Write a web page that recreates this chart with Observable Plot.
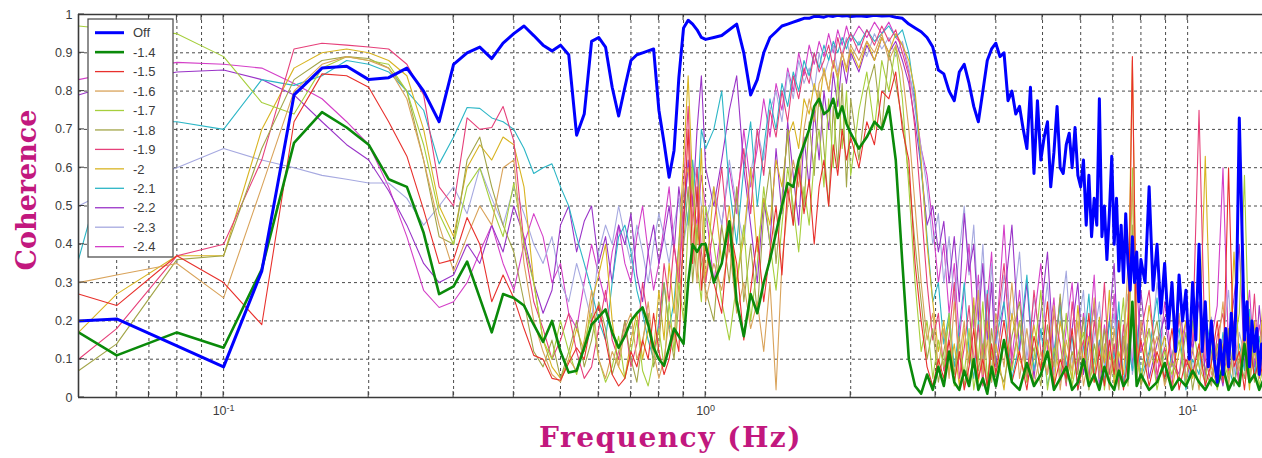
<!DOCTYPE html>
<html>
<head>
<meta charset="utf-8">
<script src="https://cdn.jsdelivr.net/npm/d3@7"></script>
<script src="https://cdn.jsdelivr.net/npm/@observablehq/plot@0.6"></script>
<style>
  html, body { margin: 0; padding: 0; background: #fff; }
  #chart { position: relative; width: 1262px; height: 458px; overflow: hidden; }
</style>
</head>
<body>
<div id="chart"></div>
<script>
// Coherence vs frequency for the gain settings in the legend.
// Sample frequencies (Hz): a fine grid below 1 Hz, a coarser log-like grid above.
const freqLow = [0.05,0.06,0.08,0.10,0.12,0.14,0.16,0.18,0.20,0.22,0.24,0.26,0.28,0.30,0.32,0.34,0.36,0.38,0.40,0.42,0.44,0.46,0.48,0.50,0.52,0.54,0.56,0.58,0.60,0.62,0.64,0.66,0.68,0.70,0.72,0.74,0.76,0.78,0.80,0.82,0.84,0.86,0.88,0.90,0.92,0.94,0.96,0.98,1.00];
const freqHigh = [
  1.04,1.08,1.12,1.16,1.20,1.24,1.28,1.32,1.36,1.40,1.44,1.48,1.52,1.56,1.60,1.64,1.68,1.72,1.76,1.80,1.84,1.88,1.92,1.96,2.00,
  2.08,2.16,2.24,2.32,2.40,2.48,2.56,2.64,2.72,2.80,2.88,2.96,3.04,3.12,3.20,3.28,3.36,3.44,3.52,3.60,3.68,3.76,3.84,3.92,4.00,
  4.16,4.32,4.48,4.64,4.80,4.96,5.12,5.28,5.44,5.60,5.76,5.92,6.08,6.24,6.40,6.56,6.72,6.88,7.04,7.20,7.36,7.52,7.68,7.84,8.00,
  8.32,8.64,8.96,9.28,9.60,9.92,10.24,10.56,10.88,11.20,11.52,11.84,12.16,12.48,12.80,13.12,13.44,13.76,14.08,14.40
];
// The "Off" curve is kept at a finer step above 4 Hz.
const freqOffFine = [
  4.08,4.16,4.24,4.32,4.40,4.48,4.56,4.64,4.72,4.80,4.88,4.96,5.04,5.12,5.20,5.28,5.36,5.44,5.52,5.60,5.68,5.76,5.84,5.92,6.00,
  6.08,6.16,6.24,6.32,6.40,6.48,6.56,6.64,6.72,6.80,6.88,6.96,7.04,7.12,7.20,7.28,7.36,7.44,7.52,7.60,7.68,7.76,7.84,7.92,8.00,
  8.16,8.32,8.48,8.64,8.80,8.96,9.12,9.28,9.44,9.60,9.76,9.92,10.08,10.24,10.40,10.56,10.72,10.88,11.04,11.20,
  11.36,11.52,11.68,11.84,12.00,12.16,12.32,12.48,12.64,12.80,12.96,13.12,13.28,13.44,13.60,13.76,13.92,14.08,14.24,14.40
];

// Coherence per setting, one value per sample frequency.
const cohOff = [
  0.20,0.205,0.135,0.08,0.33,0.79,0.86,0.865,0.83,0.835,0.86,0.80,0.72,0.87,0.90,0.915,0.885,0.925,0.95,0.97,0.945,0.92,0.905,0.92,0.895,0.685,0.74,0.93,0.94,0.915,0.81,0.735,0.81,0.88,0.895,0.90,0.905,0.91,0.75,0.665,0.575,0.645,0.835,0.965,0.985,0.975,0.96,0.94,0.935,
  0.94,0.945,0.96,0.975,0.90,0.79,0.83,0.90,0.94,0.955,0.97,0.975,0.98,0.985,0.99,0.99,0.995,0.995,0.993,0.997,0.995,0.998,0.996,0.997,0.995,
  0.997,0.995,0.998,0.996,0.997,0.993,0.99,0.975,0.965,0.955,0.94,0.915,0.855,0.845,0.80,0.775,0.85,0.87,0.82,0.76,0.72,0.80,0.88,0.91,0.925,
  0.89,0.90,0.775,0.80,0.74,0.76,0.70,0.65,0.81,0.585,0.775,0.62,0.68,0.72,0.55,0.64,0.76,0.60,0.585,0.66,0.69,0.60,0.705,0.58,0.55,
  0.62,0.45,0.58,0.42,0.52,0.45,0.78,0.42,0.50,0.36,0.48,0.63,0.40,0.52,0.33,0.45,0.30,0.48,0.35,0.28,0.42,0.30,0.38,0.25,0.36,
  0.30,0.55,0.28,0.40,0.22,0.35,0.18,0.30,0.12,0.32,0.20,0.28,0.10,0.30,0.15,0.40,0.12,0.25,0.08,0.20,
  0.10,0.04,0.15,0.06,0.18,0.08,0.22,0.10,0.30,0.73,0.45,0.15,0.25,0.08,0.20,0.12,0.18,0.06,0.14,0.10
];
const coh14 = [
  0.17,0.11,0.17,0.13,0.335,0.665,0.745,0.705,0.66,0.57,0.55,0.43,0.27,0.29,0.355,0.26,0.17,0.27,0.26,0.24,0.19,0.145,0.20,0.12,0.065,0.07,0.13,0.19,0.21,0.23,0.17,0.13,0.16,0.20,0.22,0.235,0.19,0.13,0.10,0.083,0.13,0.18,0.16,0.14,0.30,0.40,0.38,0.40,0.40,
  0.30,0.35,0.46,0.25,0.16,0.27,0.22,0.30,0.36,0.43,0.50,0.56,0.55,0.62,0.66,0.70,0.76,0.78,0.74,0.75,0.78,0.73,0.76,0.715,0.69,
  0.65,0.68,0.72,0.70,0.76,0.62,0.35,0.10,0.03,0.01,0.06,0.02,0.08,0.03,0.12,0.04,0.02,0.07,0.03,0.10,0.02,0.05,0.01,0.08,0.03,
  0.15,0.04,0.02,0.09,0.03,0.06,0.12,0.02,0.05,0.08,0.02,0.04,0.10,0.03,0.06,0.02,0.08,0.04,0.02,0.07,0.03,0.05,0.25,0.03,0.06,
  0.02,0.04,0.09,0.02,0.05,0.03,0.07,0.04,0.02,0.05,0.03,0.08,0.02,0.05,0.03,0.14,0.04,0.06,0.02,0.05
];
const coh15 = [
  0.27,0.24,0.37,0.30,0.19,0.72,0.845,0.84,0.81,0.72,0.63,0.49,0.35,0.36,0.47,0.40,0.25,0.32,0.26,0.18,0.11,0.10,0.05,0.045,0.09,0.13,0.10,0.20,0.24,0.15,0.06,0.03,0.05,0.12,0.08,0.15,0.10,0.22,0.12,0.06,0.10,0.18,0.12,0.45,0.70,0.35,0.55,0.28,0.40,
  0.30,0.22,0.45,0.35,0.15,0.28,0.42,0.25,0.38,0.50,0.32,0.55,0.45,0.60,0.48,0.57,0.40,0.55,0.62,0.50,0.66,0.58,0.70,0.62,0.68,
  0.60,0.72,0.66,0.80,0.78,0.85,0.70,0.62,0.35,0.20,0.08,0.03,0.10,0.05,0.15,0.04,0.12,0.02,0.08,0.18,0.05,0.10,0.03,0.14,0.06,
  0.20,0.04,0.12,0.02,0.16,0.07,0.25,0.03,0.10,0.05,0.18,0.02,0.09,0.22,0.04,0.12,0.03,0.15,0.06,0.20,0.02,0.10,0.89,0.08,0.15,
  0.03,0.12,0.05,0.18,0.02,0.10,0.06,0.14,0.03,0.09,0.20,0.04,0.60,0.08,0.12,0.02,0.15,0.05,0.10,0.04
];
const coh16 = [
  0.30,0.32,0.35,0.26,0.55,0.80,0.87,0.89,0.88,0.86,0.78,0.62,0.45,0.33,0.42,0.50,0.45,0.60,0.62,0.35,0.20,0.12,0.06,0.04,0.10,0.07,0.15,0.28,0.10,0.05,0.12,0.08,0.18,0.22,0.10,0.14,0.25,0.12,0.05,0.10,0.20,0.15,0.35,0.55,0.60,0.45,0.30,0.50,0.25,
  0.35,0.28,0.40,0.22,0.30,0.18,0.25,0.12,0.30,0.02,0.35,0.50,0.62,0.55,0.70,0.78,0.72,0.82,0.85,0.80,0.88,0.84,0.90,0.86,0.92,
  0.88,0.93,0.90,0.95,0.88,0.92,0.85,0.70,0.50,0.30,0.15,0.22,0.08,0.18,0.05,0.25,0.10,0.20,0.03,0.12,0.28,0.06,0.15,0.04,0.22,
  0.08,0.30,0.05,0.18,0.03,0.12,0.06,0.24,0.02,0.15,0.07,0.20,0.03,0.11,0.26,0.05,0.14,0.02,0.18,0.06,0.12,0.35,0.55,0.04,0.20,
  0.08,0.16,0.03,0.10,0.22,0.05,0.13,0.02,0.18,0.06,0.11,0.25,0.03,0.14,0.07,0.20,0.04,0.12,0.06,0.16
];
const coh17 = [
  0.97,0.96,0.95,0.89,0.77,0.74,0.86,0.89,0.88,0.87,0.80,0.66,0.48,0.40,0.55,0.60,0.50,0.42,0.56,0.40,0.30,0.15,0.10,0.20,0.12,0.06,0.14,0.22,0.10,0.04,0.08,0.16,0.05,0.12,0.20,0.07,0.03,0.10,0.18,0.08,0.25,0.12,0.30,0.20,0.45,0.60,0.35,0.25,0.50,
  0.40,0.25,0.15,0.30,0.45,0.20,0.35,0.55,0.40,0.28,0.45,0.60,0.50,0.38,0.55,0.45,0.62,0.70,0.55,0.78,0.60,0.84,0.65,0.80,0.58,
  0.75,0.85,0.70,0.88,0.80,0.92,0.78,0.55,0.30,0.12,0.20,0.05,0.15,0.08,0.22,0.03,0.14,0.06,0.18,0.02,0.10,0.25,0.05,0.12,0.03,
  0.15,0.07,0.20,0.04,0.10,0.28,0.02,0.13,0.06,0.22,0.03,0.11,0.17,0.04,0.09,0.20,0.02,0.12,0.05,0.14,0.26,0.03,0.60,0.10,0.05,
  0.18,0.02,0.12,0.06,0.15,0.03,0.20,0.08,0.04,0.16,0.02,0.10,0.05,0.13,0.22,0.58,0.06,0.14,0.03,0.09
];
const coh18 = [
  0.07,0.14,0.36,0.37,0.65,0.83,0.88,0.89,0.885,0.86,0.80,0.62,0.42,0.40,0.62,0.68,0.55,0.45,0.38,0.25,0.12,0.08,0.15,0.05,0.12,0.20,0.08,0.15,0.25,0.18,0.06,0.12,0.20,0.10,0.04,0.15,0.22,0.08,0.14,0.30,0.18,0.10,0.25,0.40,0.55,0.30,0.45,0.35,0.28,
  0.20,0.45,0.30,0.55,0.25,0.40,0.22,0.48,0.60,0.35,0.52,0.70,0.45,0.62,0.50,0.72,0.58,0.80,0.65,0.50,0.76,0.60,0.82,0.55,0.78,
  0.62,0.80,0.87,0.70,0.90,0.82,0.72,0.58,0.40,0.25,0.10,0.18,0.04,0.12,0.20,0.06,0.16,0.03,0.11,0.24,0.07,0.14,0.02,0.18,0.09,
  0.04,0.16,0.25,0.06,0.13,0.03,0.19,0.08,0.27,0.04,0.12,0.06,0.21,0.02,0.14,0.07,0.18,0.04,0.10,0.02,0.16,0.08,0.45,0.12,0.03,
  0.11,0.20,0.04,0.09,0.05,0.17,0.02,0.12,0.07,0.03,0.14,0.06,0.18,0.03,0.10,0.05,0.21,0.04,0.12,0.07
];
const coh19 = [
  0.10,0.18,0.37,0.40,0.62,0.91,0.925,0.92,0.915,0.91,0.87,0.79,0.55,0.50,0.73,0.70,0.705,0.76,0.67,0.40,0.25,0.18,0.10,0.15,0.22,0.12,0.05,0.08,0.18,0.28,0.15,0.10,0.20,0.08,0.14,0.30,0.20,0.12,0.18,0.35,0.25,0.40,0.30,0.55,0.76,0.45,0.60,0.38,0.30,
  0.45,0.60,0.38,0.52,0.65,0.48,0.70,0.58,0.75,0.68,0.80,0.72,0.84,0.78,0.86,0.82,0.90,0.85,0.88,0.92,0.86,0.94,0.89,0.93,0.95,
  0.90,0.96,0.92,0.97,0.93,0.96,0.90,0.84,0.70,0.50,0.30,0.15,0.22,0.07,0.16,0.30,0.05,0.13,0.24,0.08,0.19,0.03,0.27,0.10,0.16,
  0.35,0.08,0.20,0.04,0.28,0.12,0.06,0.22,0.14,0.03,0.25,0.09,0.15,0.05,0.20,0.11,0.30,0.06,0.14,0.03,0.19,0.09,0.25,0.05,0.17,
  0.28,0.06,0.13,0.03,0.21,0.08,0.15,0.75,0.10,0.04,0.16,0.22,0.07,0.12,0.03,0.18,0.09,0.27,0.05,0.13
];
const coh20 = [
  0.17,0.27,0.37,0.37,0.70,0.86,0.90,0.91,0.90,0.88,0.84,0.70,0.50,0.42,0.60,0.66,0.62,0.68,0.66,0.55,0.30,0.15,0.08,0.05,0.10,0.18,0.12,0.25,0.32,0.40,0.20,0.08,0.05,0.15,0.22,0.10,0.18,0.12,0.28,0.15,0.35,0.22,0.40,0.62,0.84,0.55,0.40,0.65,0.30,
  0.55,0.35,0.50,0.30,0.42,0.60,0.38,0.52,0.45,0.62,0.55,0.68,0.72,0.65,0.78,0.74,0.82,0.76,0.86,0.80,0.88,0.83,0.90,0.85,0.91,
  0.86,0.93,0.88,0.94,0.90,0.95,0.92,0.88,0.80,0.62,0.40,0.25,0.12,0.20,0.06,0.14,0.03,0.18,0.09,0.26,0.04,0.12,0.20,0.06,0.14,
  0.02,0.22,0.10,0.05,0.19,0.08,0.15,0.03,0.20,0.11,0.05,0.24,0.08,0.16,0.04,0.21,0.09,0.28,0.03,0.12,0.06,0.22,0.88,0.14,0.04,
  0.24,0.09,0.16,0.02,0.12,0.20,0.05,0.10,0.63,0.08,0.03,0.14,0.06,0.38,0.09,0.15,0.02,0.20,0.08,0.30
];
const coh21 = [
  0.36,0.72,0.72,0.70,0.83,0.815,0.84,0.88,0.87,0.85,0.80,0.75,0.61,0.68,0.757,0.755,0.73,0.72,0.70,0.65,0.585,0.60,0.61,0.55,0.50,0.42,0.35,0.28,0.20,0.15,0.30,0.42,0.45,0.38,0.28,0.22,0.15,0.10,0.20,0.30,0.18,0.25,0.40,0.55,0.45,0.62,0.50,0.70,0.65,
  0.70,0.80,0.55,0.40,0.60,0.72,0.50,0.65,0.78,0.70,0.82,0.76,0.85,0.80,0.88,0.84,0.90,0.86,0.92,0.88,0.93,0.90,0.94,0.91,0.95,
  0.92,0.96,0.93,0.95,0.97,0.94,0.96,0.90,0.78,0.60,0.42,0.25,0.30,0.14,0.22,0.08,0.18,0.30,0.12,0.05,0.20,0.10,0.28,0.04,0.15,
  0.25,0.05,0.14,0.32,0.07,0.18,0.03,0.12,0.24,0.08,0.16,0.02,0.13,0.27,0.06,0.15,0.04,0.20,0.10,0.25,0.03,0.14,0.07,0.19,0.05,
  0.12,0.26,0.04,0.11,0.18,0.02,0.10,0.06,0.22,0.12,0.04,0.17,0.08,0.03,0.14,0.07,0.23,0.05,0.16,0.04
];
const coh22 = [
  0.79,0.82,0.85,0.855,0.83,0.79,0.72,0.66,0.62,0.54,0.45,0.35,0.30,0.32,0.40,0.35,0.45,0.38,0.50,0.42,0.30,0.22,0.28,0.45,0.50,0.38,0.46,0.50,0.35,0.42,0.30,0.45,0.40,0.48,0.32,0.25,0.38,0.45,0.35,0.42,0.50,0.38,0.55,0.45,0.62,0.50,0.70,0.84,0.60,
  0.50,0.62,0.75,0.84,0.60,0.45,0.30,0.52,0.40,0.65,0.48,0.72,0.58,0.45,0.68,0.55,0.75,0.62,0.80,0.70,0.85,0.76,0.88,0.82,0.90,
  0.85,0.92,0.88,0.94,0.90,0.93,0.88,0.82,0.72,0.60,0.45,0.50,0.38,0.46,0.30,0.42,0.25,0.48,0.33,0.40,0.20,0.35,0.15,0.30,0.08,
  0.25,0.45,0.12,0.30,0.05,0.22,0.38,0.10,0.26,0.04,0.18,0.30,0.06,0.15,0.24,0.03,0.12,0.20,0.35,0.07,0.16,0.04,0.22,0.10,0.28,
  0.05,0.14,0.21,0.08,0.30,0.04,0.12,0.25,0.06,0.18,0.10,0.03,0.15,0.26,0.40,0.08,0.19,0.05,0.24,0.10
];
const coh23 = [
  0.50,0.55,0.60,0.65,0.62,0.60,0.58,0.57,0.56,0.56,0.52,0.45,0.50,0.55,0.48,0.60,0.52,0.45,0.55,0.48,0.40,0.35,0.42,0.30,0.25,0.35,0.28,0.20,0.38,0.45,0.40,0.50,0.42,0.35,0.45,0.38,0.30,0.40,0.48,0.42,0.35,0.45,0.52,0.40,0.48,0.55,0.60,0.50,0.45,
  0.55,0.45,0.62,0.50,0.40,0.58,0.70,0.62,0.75,0.80,0.72,0.85,0.78,0.88,0.82,0.86,0.80,0.90,0.84,0.88,0.92,0.85,0.90,0.94,0.88,
  0.93,0.89,0.95,0.91,0.94,0.89,0.93,0.86,0.75,0.65,0.55,0.40,0.48,0.30,0.42,0.25,0.38,0.50,0.32,0.45,0.22,0.40,0.18,0.35,0.12,
  0.32,0.20,0.38,0.10,0.26,0.15,0.30,0.06,0.20,0.33,0.09,0.18,0.28,0.05,0.16,0.25,0.08,0.14,0.22,0.04,0.18,0.27,0.06,0.13,0.20,
  0.08,0.30,0.12,0.05,0.17,0.24,0.07,0.14,0.03,0.21,0.09,0.15,0.28,0.06,0.17,0.11,0.04,0.19,0.09,0.22
];
const coh24 = [
  0.83,0.85,0.875,0.87,0.86,0.82,0.78,0.72,0.66,0.55,0.42,0.28,0.235,0.25,0.30,0.38,0.45,0.35,0.28,0.40,0.48,0.42,0.30,0.35,0.22,0.18,0.30,0.40,0.32,0.25,0.38,0.45,0.35,0.30,0.42,0.50,0.38,0.28,0.35,0.45,0.55,0.40,0.30,0.48,0.60,0.52,0.45,0.58,0.50,
  0.30,0.45,0.60,0.48,0.70,0.55,0.65,0.78,0.68,0.82,0.75,0.86,0.80,0.90,0.84,0.92,0.87,0.93,0.89,0.95,0.90,0.96,0.92,0.97,0.93,
  0.97,0.94,0.98,0.95,0.98,0.94,0.92,0.85,0.77,0.65,0.58,0.45,0.30,0.40,0.22,0.35,0.15,0.28,0.40,0.18,0.32,0.10,0.25,0.38,0.14,
  0.45,0.10,0.28,0.05,0.20,0.35,0.12,0.26,0.04,0.18,0.30,0.07,0.22,0.14,0.32,0.05,0.19,0.10,0.27,0.04,0.15,0.20,0.08,0.30,0.12,
  0.18,0.04,0.25,0.10,0.06,0.20,0.13,0.35,0.05,0.15,0.24,0.60,0.12,0.20,0.04,0.16,0.28,0.08,0.19,0.11
];

// Legend names and line styles, in legend order.
const seriesNames  = ["Off","-1.4","-1.5","-1.6","-1.7","-1.8","-1.9","-2","-2.1","-2.2","-2.3","-2.4"];
const seriesValues = [cohOff,coh14,coh15,coh16,coh17,coh18,coh19,coh20,coh21,coh22,coh23,coh24];
const seriesColors = ["#0000ff","#0a8a0a","#e8302c","#d9a35a","#a6cf3c","#a2a548","#e6407a","#d8b422","#2cb6c6","#9a34c8","#a6a9e0","#d43fc8"];
const seriesWidths = [3,2.6,1.1,1.1,1.1,1.1,1.1,1.1,1.1,1.1,1.1,1.1];

// Axis ticks and grid positions.
const yTicks = [0,0.1,0.2,0.3,0.4,0.5,0.6,0.7,0.8,0.9,1];
const xMajorTicks = [0.1,1,10];
const xGridFreqs = [0.06,0.07,0.08,0.09,0.1,0.2,0.3,0.4,0.5,0.6,0.7,0.8,0.9,1,2,3,4,5,6,7,8,9,10];
const xLabel = "Frequency (Hz)";
const yLabel = "Coherence";

const freqCommon = freqLow.concat(freqHigh);
const freqOff = freqLow.concat(freqHigh.slice(0, 50), freqOffFine);
const seriesRows = seriesNames.map((name, k) => {
  const fs = k === 0 ? freqOff : freqCommon;
  return fs.map((f, i) => ({name, f, v: seriesValues[k][i]})).filter(d => d.v != null);
});

const labelFont = "'DejaVu Serif', serif";
const labelColor = "#c2187e";
const gridStyle = {stroke: "#2a2a2a", strokeWidth: 1, strokeDasharray: "3,3", strokeOpacity: 0.85};

// Thin series first (last legend entry at the bottom), the thick ones on top.
const lineMarks = seriesNames.map((name, k) => k).reverse().map(k =>
  Plot.line(seriesRows[k], {x: "f", y: "v", stroke: seriesColors[k], strokeWidth: seriesWidths[k], clip: true, strokeLinejoin: "round"})
);

const chart = Plot.plot({
  width: 1262,
  height: 458,
  marginLeft: 78,
  marginRight: 0,
  marginTop: 14,
  marginBottom: 61,
  style: {fontFamily: "'Liberation Sans', Arial, sans-serif", background: "#fff"},
  x: {type: "log", domain: [0.05, 14.3]},
  y: {domain: [0, 1]},
  marks: [
    Plot.ruleX(xGridFreqs, gridStyle),
    Plot.ruleY(yTicks.slice(1, -1), gridStyle),
    ...lineMarks,
    Plot.ruleY([0, 1], {stroke: "#3a3a3a", strokeWidth: 1.6}),
    Plot.ruleX([0.05], {stroke: "#3a3a3a", strokeWidth: 1.6}),
    Plot.axisY(yTicks, {tickSize: 0, tickPadding: 6, fontSize: 12.5, fill: "#3c3c3c", label: null,
      tickFormat: d => String(+d.toFixed(1))}),
    Plot.axisX(xMajorTicks, {tickSize: 0, tickPadding: 9, fontSize: 12.5, fill: "#3c3c3c", label: null,
      tickFormat: d => "10^" + Math.round(Math.log10(d))}),
    Plot.text([xLabel], {frameAnchor: "bottom", lineAnchor: "middle", textAnchor: "middle", dy: 41,
      fontFamily: labelFont, fontWeight: "bold", fontSize: 28, fill: labelColor}),
    Plot.text([yLabel], {frameAnchor: "left", textAnchor: "middle", lineAnchor: "middle", rotate: -90,
      dx: -51, dy: -16, fontFamily: labelFont, fontWeight: "bold", fontSize: 27, fill: labelColor})
  ]
});

document.getElementById("chart").append(chart);

// Post-render touches drawn with the plot's own scales.
const svg = d3.select(chart);
const xs = chart.scale("x"), ys = chart.scale("y");
const yTop = ys.apply(1), yBottom = ys.apply(0), xLeft = xs.apply(0.05);

// Wider lettering for the x-axis title.
svg.selectAll("text").filter(function() { return d3.select(this).text() === xLabel; })
  .style("letter-spacing", "1.5px");

// Powers of ten as superscripts.
svg.selectAll("[aria-label='x-axis tick label'] text").each(function() {
  const t = d3.select(this);
  const [base, exp] = t.text().split("^");
  t.text(base);
  t.append("tspan").attr("dy", "-0.45em").attr("font-size", "9px").text(exp);
});

// Inward tick marks, Matlab style.
const ticks = svg.append("g").attr("stroke", "#3a3a3a").attr("stroke-width", 1);
for (const f of xGridFreqs) {
  const x = xs.apply(f);
  ticks.append("line").attr("x1", x).attr("x2", x).attr("y1", yTop).attr("y2", yTop + 6);
  ticks.append("line").attr("x1", x).attr("x2", x).attr("y1", yBottom).attr("y2", yBottom - 6);
}
for (const v of yTicks) {
  const y = ys.apply(v);
  ticks.append("line").attr("x1", xLeft).attr("x2", xLeft + 6).attr("y1", y).attr("y2", y);
}

// Legend box in the upper left corner of the axes.
const legend = svg.append("g").attr("transform", `translate(${xLeft + 10},19)`);
legend.append("rect").attr("width", 85).attr("height", 238).attr("fill", "#fff").attr("stroke", "#444").attr("stroke-width", 1.2);
seriesNames.forEach((name, k) => {
  const y = 13.7 + k * 19.45;
  legend.append("line").attr("x1", 7).attr("x2", 36).attr("y1", y).attr("y2", y)
    .attr("stroke", seriesColors[k]).attr("stroke-width", Math.max(1.3, seriesWidths[k]));
  legend.append("text").attr("x", 45).attr("y", y).attr("dy", "0.36em").attr("text-anchor", "start")
    .attr("font-size", 13).attr("fill", "#3c3c3c").text(name);
});
</script>
</body>
</html>
